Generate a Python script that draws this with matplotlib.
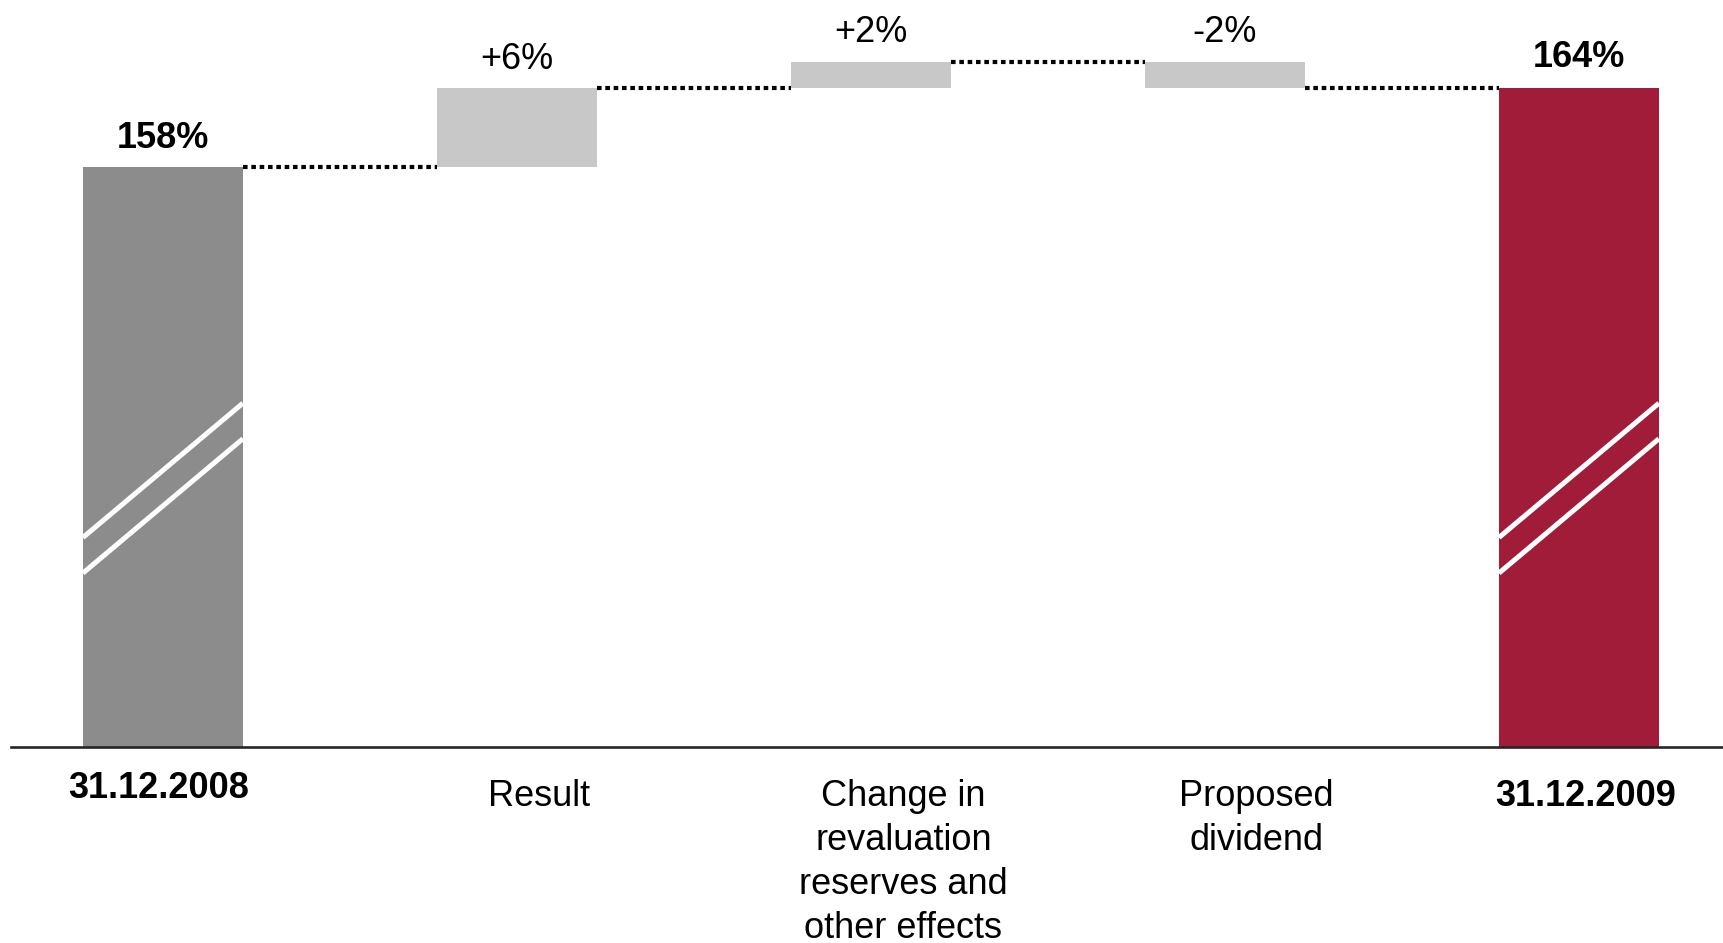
import matplotlib.pyplot as plt

plt.rcParams['font.family'] = ['Liberation Sans', 'DejaVu Sans']

# solvency ratio bridge, values in %
categories = ['31.12.2008', 'Result', 'Change in\nrevaluation\nreserves and\nother effects',
              'Proposed\ndividend', '31.12.2009']
start_value = 158
changes = [6, 2, -2]
end_value = 164
axis_base = 114          # y axis is broken, bars start here

bar_w = 0.452
grey_dark = '#8c8c8c'
grey_light = '#c8c8c8'
red = '#a01c38'

# small horizontal / vertical nudges of the category labels (data units, points)
label_dx = [-0.011, 0.062, 0.092, 0.088, 0.020]
label_dy = [-17, -23, -23, -23, -23]

fig = plt.figure(figsize=(17.23, 9.43), dpi=100)
ax = fig.add_axes([0.0064, 0.2078, 0.9936, 0.7922])
ax.set_xlim(-0.429, 4.407)
ax.set_ylim(axis_base, 170.7)
for s in ['top', 'left', 'right']:
    ax.spines[s].set_visible(False)
ax.spines['bottom'].set_linewidth(1.9)
ax.spines['bottom'].set_color('#262626')
ax.set_xticks([])
ax.set_yticks([])

xs = list(range(len(categories)))

# start bar
ax.bar(xs[0], start_value - axis_base, bottom=axis_base, width=bar_w, color=grey_dark)
ax.annotate(f'{start_value}%', (xs[0], start_value), xytext=(0, 14), textcoords='offset points',
            ha='center', va='baseline', fontsize=26, fontweight='bold')

# floating change bars
level = start_value
levels = [level]
for i, d in enumerate(changes):
    x = xs[i + 1]
    lo, hi = min(level, level + d), max(level, level + d)
    ax.bar(x, hi - lo, bottom=lo, width=bar_w, color=grey_light)
    ax.annotate(f'{d:+d}%', (x, hi), xytext=(0, 14), textcoords='offset points',
                ha='center', va='baseline', fontsize=26)
    level += d
    levels.append(level)

# end bar
ax.bar(xs[-1], end_value - axis_base, bottom=axis_base, width=bar_w, color=red)
ax.annotate(f'{end_value}%', (xs[-1], end_value), xytext=(0, 15), textcoords='offset points',
            ha='center', va='baseline', fontsize=26, fontweight='bold')

# dotted connectors between neighbouring bars
for i, lv in enumerate(levels):
    ax.plot([xs[i] + bar_w / 2, xs[i + 1] - bar_w / 2], [lv, lv], color='black',
            lw=3, linestyle=(0, (1.1, 0.9)), dash_capstyle='butt')

# break marks on the two total bars
for x in (xs[0], xs[-1]):
    for y0 in (127.2, 129.9):
        ax.plot([x - bar_w / 2, x + bar_w / 2], [y0, y0 + 10.2], color='white',
                lw=3.6, solid_capstyle='butt')

# category labels
for i, (x, lab) in enumerate(zip(xs, categories)):
    bold = i in (0, len(categories) - 1)
    ax.annotate(lab, (x + label_dx[i], axis_base), xytext=(0, label_dy[i]),
                textcoords='offset points', ha='center', va='top', fontsize=26,
                fontweight='bold' if bold else 'normal', linespacing=1.33,
                annotation_clip=False)

fig.savefig('out.png', dpi=100)
